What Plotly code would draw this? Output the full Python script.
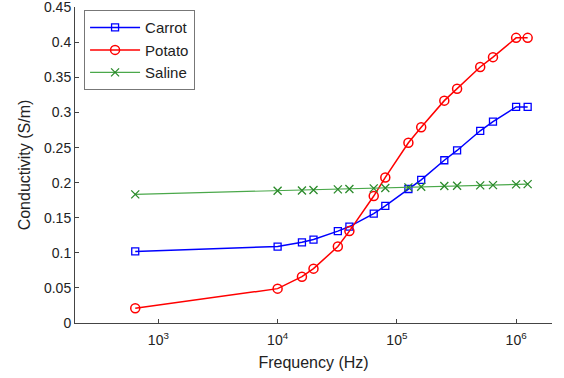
import plotly.graph_objects as go

freq = [640, 1e4, 1.6e4, 2e4, 3.2e4, 4e4, 6.4e4, 8e4, 1.25e5, 1.6e5,
        2.5e5, 3.2e5, 5e5, 6.4e5, 1e6, 1.25e6]
carrot = [0.102, 0.109, 0.115, 0.119, 0.131, 0.1375, 0.156, 0.167, 0.191, 0.204,
          0.232, 0.246, 0.274, 0.287, 0.308, 0.308]
potato = [0.021, 0.049, 0.066, 0.0775, 0.109, 0.131, 0.181, 0.2075, 0.257, 0.279,
          0.317, 0.334, 0.365, 0.379, 0.4065, 0.4065]
saline = [0.1834, 0.1886, 0.189, 0.1895, 0.1905, 0.191, 0.1919, 0.1924, 0.1933, 0.1943,
          0.1952, 0.1957, 0.1962, 0.1966, 0.1976, 0.198]
series_names = ["Carrot", "Potato", "Saline"]
x_tickvals = [1e3, 1e4, 1e5, 1e6]
x_ticktext = ["10<sup>3</sup>", "10<sup>4</sup>", "10<sup>5</sup>", "10<sup>6</sup>"]
y_tickvals = [0, 0.05, 0.1, 0.15, 0.2, 0.25, 0.3, 0.35, 0.4, 0.45]
y_ticktext = ["0", "0.05", "0.1", "0.15", "0.2", "0.25", "0.3", "0.35", "0.4", "0.45"]

fig = go.Figure()
fig.add_trace(go.Scatter(x=freq, y=carrot, name=series_names[0], mode="lines+markers",
                         line=dict(color="#0000ff", width=1.5),
                         marker=dict(symbol="square-open", size=7, color="#0000ff",
                                     line=dict(width=1.3))))
fig.add_trace(go.Scatter(x=freq, y=potato, name=series_names[1], mode="lines+markers",
                         line=dict(color="#ff0000", width=1.5),
                         marker=dict(symbol="circle-open", size=9, color="#ff0000",
                                     line=dict(width=1.5))))
fig.add_trace(go.Scatter(x=freq, y=saline, name=series_names[2], mode="lines+markers",
                         line=dict(color="#4aa84a", width=1.2),
                         marker=dict(symbol="x-thin-open", size=8, color="#2a8a2a",
                                     line=dict(width=1.3, color="#2a8a2a"))))

axcol = "#444444"
fig.update_layout(
    width=564, height=378,
    margin=dict(l=75, r=12, t=7, b=55),
    paper_bgcolor="white", plot_bgcolor="white",
    font=dict(family="Liberation Sans, Arial, sans-serif", color="#222222", size=14),
    showlegend=True,
    legend=dict(x=0.019, y=0.99, xanchor="left", yanchor="top",
                bgcolor="white", bordercolor="#777777", borderwidth=1,
                font=dict(size=15, color="#222222"), tracegroupgap=0,
                itemwidth=50),
    xaxis=dict(type="log", range=[2.301, 6.301], automargin=False,
               tickvals=x_tickvals, ticktext=x_ticktext,
               ticks="inside", ticklen=4, tickcolor=axcol,
               showline=True, linecolor=axcol, linewidth=1,
               showgrid=False, zeroline=False, mirror=False,
               ticklabelstandoff=4, ticklabeloverflow="allow",
               title=dict(text="Frequency (Hz)", font=dict(size=16), standoff=10),
               tickfont=dict(size=14)),
    yaxis=dict(range=[0, 0.4505], tickvals=y_tickvals, ticktext=y_ticktext,
               automargin=False, ticklabeloverflow="allow",
               ticks="inside", ticklen=4, tickcolor=axcol,
               showline=True, linecolor=axcol, linewidth=1,
               showgrid=False, zeroline=False, mirror=False,
               title=dict(text="Conductivity (S/m)", font=dict(size=16), standoff=9),
               tickfont=dict(size=14)),
)

fig.write_html("out.html", config={"displayModeBar": False},
               post_script="document.body.style.margin='0';document.body.style.overflow='hidden';")
